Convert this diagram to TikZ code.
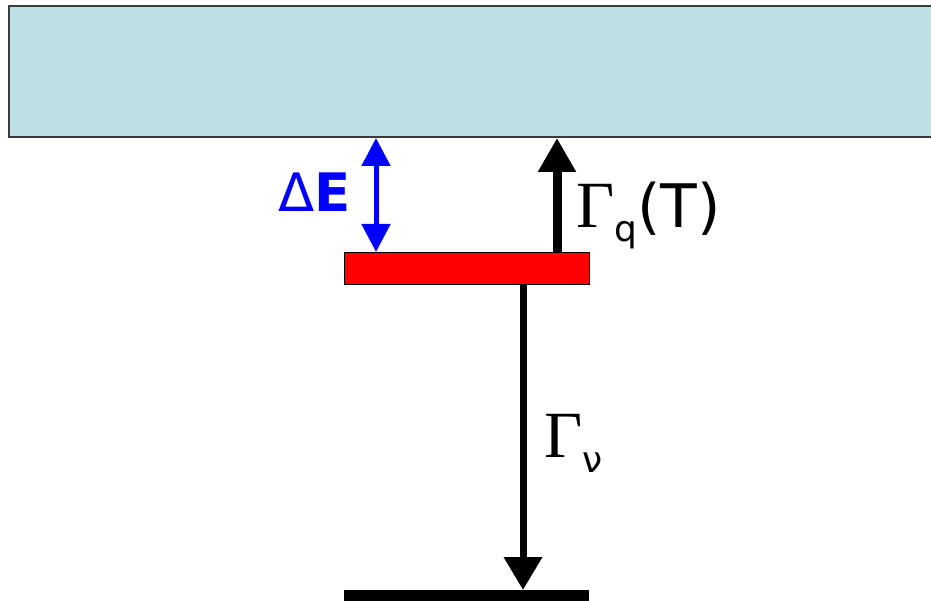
\documentclass[tikz,border=0pt]{standalone}
\usepackage{fontspec}
\setmainfont{DejaVu Sans}
\newfontfamily\gfont{Liberation Serif}
\newfontfamily\sfont{DejaVu Sans}
\usetikzlibrary{arrows.meta,calc}
\definecolor{bandcol}{HTML}{BCE0E3}
\definecolor{bandedge}{HTML}{3A3A3A}
\begin{document}
\begin{tikzpicture}[x=1pt,y=-1pt,
  bandbox/.style={draw=bandedge,line width=1.5pt,fill=bandcol,rectangle,inner sep=0pt,outer sep=0pt},
  levelbox/.style={draw=black,line width=1pt,fill=red,rectangle,inner sep=0pt,outer sep=0pt},
  groundbox/.style={fill=black,rectangle,inner sep=0pt,outer sep=0pt},
  uparrow/.style={line width=9pt,-{Triangle[width=36pt,length=34pt]}},
  downarrow/.style={line width=7pt,-{Triangle[width=37pt,length=33pt]}},
  gaparrow/.style={blue,line width=5pt,{Triangle[width=28pt,length=28pt]}-{Triangle[width=28pt,length=28pt]}},
  lbl/.style={inner sep=0pt,outer sep=0pt,anchor=base west}]
\useasboundingbox (0,0) rectangle (931,601);
\fill[white] (0,0) rectangle (931,601);
\node[bandbox,minimum width=940pt,minimum height=131pt] (band) at (479,71.5) {};
\node[levelbox,minimum width=245pt,minimum height=32pt] (level) at (466.5,269) {};
\node[groundbox,minimum width=245pt,minimum height=14pt] (ground) at (466.5,597) {};
\coordinate (upx) at (557,0);
\coordinate (downx) at (523,0);
\coordinate (gapx) at (376,0);
\draw[uparrow] (level.north -| upx) -- ($(band.south -| upx)+(0,1)$);
\draw[downarrow] (level.south -| downx) -- (ground.north -| downx);
\draw[gaparrow] ($(level.north -| gapx)+(0,-1)$) -- ($(band.south -| gapx)+(0,1)$);
\node[lbl,text=blue] (dE) at (278,212) {\fontsize{53}{60}\selectfont Δ\textbf{E}};
\node[lbl] (gq) at (576,228) {\fontsize{66}{70}\selectfont\gfont Γ\raisebox{-14pt}{\fontsize{36}{40}\selectfont\sfont q}\fontsize{60}{66}\selectfont\sfont(T)};
\node[lbl] (gn) at (544,457) {\fontsize{66}{70}\selectfont\gfont Γ\raisebox{-15pt}{\fontsize{36}{40}\selectfont\sfont ν}};
\end{tikzpicture}
\end{document}
